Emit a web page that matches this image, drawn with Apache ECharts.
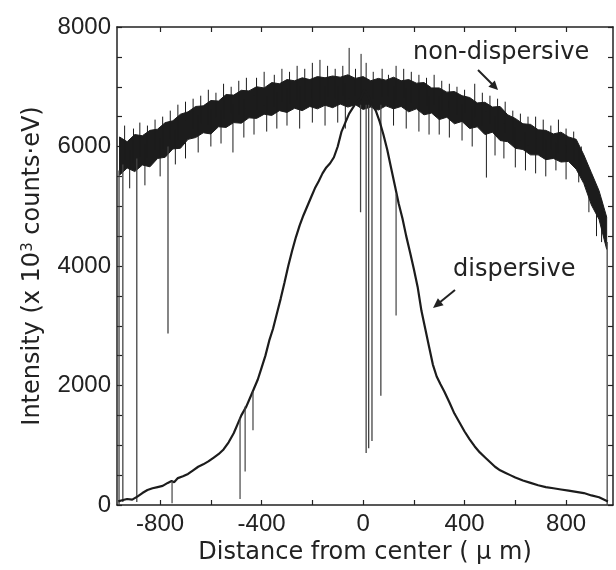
<!DOCTYPE html>
<html>
<head>
<meta charset="utf-8">
<script src="https://cdn.jsdelivr.net/npm/echarts@6/dist/echarts.min.js"></script>
<style>
html,body{margin:0;padding:0;background:#fff;}
#chart{width:616px;height:570px;}
</style>
</head>
<body>
<div id="chart"></div>
<script>
// ---- tick labels ----
const xTickValues = [-800,-600,-400,-200,0,200,400,600,800];
const xLabelValues = [-800,-400,0,400,800];
const yLabelValues = [0,2000,4000,6000,8000];

// ---- non-dispersive band (lower / upper edge of the noisy trace) ----
const ndX = [-960,-930,-900,-870,-840,-810,-780,-750,-720,-690,-660,-630,-600,-570,-540,-510,-480,-450,-420,-390,-360,-330,-300,-270,-240,-210,-180,-150,-120,-90,-60,-30,0,30,60,90,120,150,180,210,240,270,300,330,360,390,420,450,480,510,540,570,600,630,660,690,720,750,780,810,840,870,900,930,960];
const ndLow = [5520,5640,5580,5690,5660,5800,5820,5960,5970,6120,6150,6230,6210,6330,6320,6400,6390,6480,6470,6540,6520,6600,6570,6640,6600,6670,6630,6690,6650,6710,6660,6700,6620,6660,6610,6680,6630,6670,6580,6630,6530,6560,6450,6490,6380,6420,6300,6330,6200,6240,6100,6080,5970,5950,5860,5860,5780,5800,5740,5750,5620,5380,5020,4780,4280];
const ndHigh = [6160,6080,6200,6180,6270,6290,6400,6430,6540,6580,6670,6680,6770,6760,6870,6860,6940,6930,7000,6980,7070,7050,7120,7100,7150,7120,7170,7150,7180,7160,7200,7140,7170,7100,7140,7110,7160,7100,7120,7060,7070,6980,6980,6910,6920,6850,6820,6730,6740,6660,6670,6530,6470,6380,6370,6280,6270,6210,6240,6160,6120,5860,5560,5260,4820];

// upward noise spikes of the non-dispersive trace
const ndUpX = [-940,-905,-880,-850,-820,-790,-760,-730,-700,-670,-640,-610,-580,-550,-520,-490,-460,-420,-390,-350,-320,-290,-260,-230,-200,-170,-140,-110,-80,-55,-30,-8,12,40,75,100,130,160,190,220,250,280,310,340,370,400,440,470,500,530,560,590,620,650,680,710,740,770,800,830,860];
const ndUpTo = [6350,6300,6400,6350,6450,6500,6600,6700,6750,6800,6850,6950,6900,7050,7000,7100,7150,7150,7250,7200,7300,7250,7350,7300,7400,7450,7350,7300,7350,7650,7300,7550,7400,7250,7300,7200,7350,7300,7250,7200,7150,7200,7100,7050,7000,6950,7050,6900,6850,6800,6750,6600,6550,6500,6500,6450,6350,6450,6300,6250,6000];
// downward noise spikes of the non-dispersive trace
const ndDownX = [-920,-860,-800,-740,-700,-650,-600,-560,-513,-470,-430,-380,-340,-300,-250,-200,-150,-100,-70,120,170,220,260,300,340,390,430,486,520,555,600,640,680,720,760,800,850,890,920,940];
const ndDownTo = [5300,5350,5500,5700,5800,5900,6000,6050,5900,6150,6200,6250,6300,6350,6300,6400,6350,6400,6300,6350,6300,6250,6200,6200,6150,6100,6000,5480,5850,5800,5650,5600,5550,5500,5600,5450,5400,4900,4500,4400];
// long drop-outs of the non-dispersive trace
const dipX = [-962,-947,-892,-769,-10,12,22,35,70,962];
const dipFrom = [5600,5700,5800,6000,6700,6700,6700,6700,6700,4400];
const dipTo = [0,50,50,2870,4900,870,950,1070,1830,0];

// ---- dispersive trace ----
const dispX = [-965,-950,-930,-910,-890,-870,-850,-830,-810,-790,-770,-755,-745,-730,-710,-690,-670,-650,-630,-610,-590,-570,-550,-530,-510,-495,-480,-460,-445,-430,-415,-400,-385,-370,-355,-340,-325,-310,-295,-280,-265,-250,-235,-220,-205,-190,-175,-160,-145,-130,-115,-100,-85,-70,-55,-40,-25,-10,5,20,35,50,65,80,95,110,125,140,155,170,185,200,215,230,245,260,275,290,305,320,340,360,380,400,420,440,460,480,500,520,540,560,580,600,630,660,690,720,750,780,810,840,870,900,930,965];
const dispY = [60,80,100,90,140,200,250,280,300,320,370,400,380,450,480,520,580,640,680,730,790,850,930,1050,1200,1350,1500,1650,1800,1950,2100,2300,2500,2750,2950,3200,3450,3720,4000,4250,4480,4680,4850,5000,5150,5300,5420,5550,5650,5720,5820,6000,6250,6400,6550,6650,6750,6800,6950,6850,6700,6600,6420,6200,5950,5650,5350,5050,4800,4500,4230,3950,3650,3250,2950,2650,2350,2150,2020,1900,1720,1530,1380,1230,1100,980,880,800,720,640,580,540,500,460,410,370,330,300,280,260,240,220,200,160,130,60];
// drop-outs of the dispersive trace
const dDipX = [-753,-485,-465,-434,130];
const dDipFrom = [400,1450,1650,1900,5200];
const dDipTo = [30,100,560,1250,3170];

// ---- build series data ----
const ink = '#1c1c1c';
const bandData = ndX.map((x,i)=>[x, ndLow[i], ndHigh[i]]);
function nearest(x){ let i=Math.round((x-ndX[0])/30); return Math.max(0,Math.min(ndX.length-1,i)); }
const upData=[]; ndUpX.forEach((x,i)=>{upData.push([x, ndLow[nearest(x)]+150],[x, ndUpTo[i]],[x,'-']);});
const downData=[]; ndDownX.forEach((x,i)=>{downData.push([x, ndHigh[nearest(x)]-150],[x, ndDownTo[i]],[x,'-']);});
const dipData=[]; dipX.forEach((x,i)=>{dipData.push([x, dipFrom[i]],[x, dipTo[i]],[x,'-']);});
const dDipData=[]; dDipX.forEach((x,i)=>{dDipData.push([x, dDipFrom[i]],[x, dDipTo[i]],[x,'-']);});
const dispData = dispX.map((x,i)=>[x, dispY[i]]);

// the whole band is drawn as one polygon: upper edge left->right, lower edge right->left
function renderBand(params, api){
  if (params.dataIndex !== 0) return null;
  const pts = [];
  for (let i = 0; i < bandData.length; i++) pts.push(api.coord([bandData[i][0], bandData[i][2]]));
  for (let i = bandData.length - 1; i >= 0; i--) pts.push(api.coord([bandData[i][0], bandData[i][1]]));
  return {type:'polygon', shape:{points:pts}, style:{fill:ink, stroke:ink, lineWidth:1}};
}

const axisLineStyle = {color:'#222', width:1.5};
const tickFont = {fontSize:24, color:'#222', fontFamily:'"Liberation Sans", Arial, sans-serif'};
const titleFont = {fontSize:24, color:'#222', fontFamily:'"DejaVu Sans", sans-serif'};

const chart = echarts.init(document.getElementById('chart'), null, {renderer:'canvas'});
chart.setOption({
  animation:false,
  backgroundColor:'#fff',
  grid:{left:117, right:3, top:27, bottom:63, containLabel:false},
  xAxis:[
    {type:'value', min:-970, max:985, position:'bottom',
     axisLine:{show:true, onZero:false, lineStyle:axisLineStyle},
     axisTick:{show:true, inside:true, length:5, customValues:xTickValues, lineStyle:{color:'#222', width:1.2}},
     axisLabel:Object.assign({customValues:xLabelValues, margin:7}, tickFont),
     splitLine:{show:false},
     name:'Distance from center ( μ m)', nameLocation:'middle', nameGap:36,
     nameTextStyle:titleFont},
    {type:'value', min:-970, max:985, position:'top',
     axisLine:{show:true, onZero:false, lineStyle:axisLineStyle},
     axisTick:{show:true, inside:true, length:5, customValues:xTickValues, lineStyle:{color:'#222', width:1.2}},
     axisLabel:{show:false}, splitLine:{show:false}}
  ],
  yAxis:[
    {type:'value', min:0, max:8000, interval:500, position:'left',
     axisLine:{show:true, onZero:false, lineStyle:axisLineStyle},
     axisTick:{show:true, inside:true, length:5, lineStyle:{color:'#222', width:1.2}},
     axisLabel:Object.assign({margin:6, formatter:v=> yLabelValues.indexOf(v)>=0 ? String(v) : ''}, tickFont),
     splitLine:{show:false},
     name:'{a|Intensity (x 10}{s|3}{a| counts·eV)}', nameLocation:'middle', nameGap:72, nameRotate:90,
     nameTextStyle:{rich:{a:titleFont, s:{fontSize:15, color:'#222', fontFamily:'"DejaVu Sans", sans-serif', verticalAlign:'top'}}}},
    {type:'value', min:0, max:8000, interval:500, position:'right',
     axisLine:{show:true, onZero:false, lineStyle:axisLineStyle},
     axisTick:{show:true, inside:true, length:5, lineStyle:{color:'#222', width:1.2}},
     axisLabel:{show:false}, splitLine:{show:false}}
  ],
  series:[
    {name:'non-dispersive', type:'custom', data:bandData, renderItem:renderBand,
     encode:{x:0, y:[1,2]}, xAxisIndex:0, yAxisIndex:0, clip:true, silent:true},
    {name:'nd-up', type:'line', data:upData, showSymbol:false, symbol:'none', connectNulls:false,
     lineStyle:{width:1, color:ink}, silent:true},
    {name:'nd-down', type:'line', data:downData, showSymbol:false, symbol:'none', connectNulls:false,
     lineStyle:{width:1, color:ink}, silent:true},
    {name:'nd-dips', type:'line', data:dipData, showSymbol:false, symbol:'none', connectNulls:false,
     lineStyle:{width:1.3, color:'#444'}, silent:true},
    {name:'dispersive', type:'line', data:dispData, showSymbol:false, symbol:'none',
     lineStyle:{width:2.2, color:ink}, silent:true},
    {name:'d-dips', type:'line', data:dDipData, showSymbol:false, symbol:'none', connectNulls:false,
     lineStyle:{width:1.2, color:'#444'}, silent:true}
  ],
  graphic:[
    {type:'text', left:413, top:41, style:{text:'non-dispersive', fontSize:24, fontFamily:'"DejaVu Sans", sans-serif', fill:'#222'}},
    {type:'line', shape:{x1:478, y1:70, x2:493, y2:85}, style:{stroke:'#222', lineWidth:2}},
    {type:'polygon', shape:{points:[[498,90],[488.4,86.8],[494.8,80.4]]}, style:{fill:'#222'}},
    {type:'text', left:453, top:258, style:{text:'dispersive', fontSize:24, fontFamily:'"DejaVu Sans", sans-serif', fill:'#222'}},
    {type:'line', shape:{x1:455, y1:290, x2:439, y2:303}, style:{stroke:'#222', lineWidth:2}},
    {type:'polygon', shape:{points:[[433,308],[437.9,298.2],[443.6,305.2]]}, style:{fill:'#222'}}
  ]
});
</script>
</body>
</html>
